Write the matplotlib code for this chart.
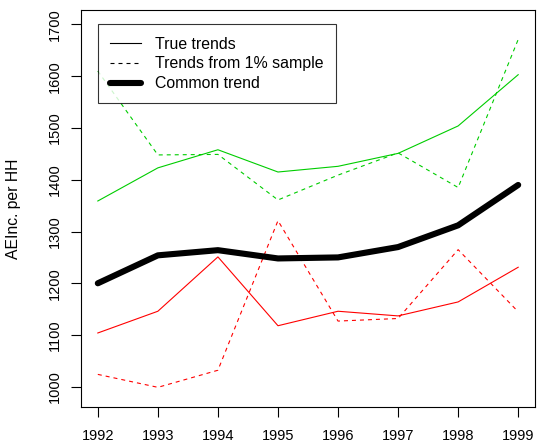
import matplotlib
matplotlib.use("Agg")
import matplotlib.pyplot as plt
from matplotlib.lines import Line2D

plt.rcParams['font.family'] = ['Liberation Sans', 'DejaVu Sans']

years = [1992, 1993, 1994, 1995, 1996, 1997, 1998, 1999]

green_true = [1359, 1423, 1458, 1415, 1426, 1451, 1504, 1603]
green_sample = [1610, 1448, 1449, 1361, 1409, 1452, 1385, 1671]
red_true = [1104, 1146, 1251, 1118, 1146, 1137, 1164, 1231]
red_sample = [1024, 999, 1032, 1321, 1127, 1132, 1265, 1145]
common = [1200, 1254, 1264, 1248, 1250, 1270, 1312, 1390]

yticks = [1000, 1100, 1200, 1300, 1400, 1500, 1600, 1700]
legend_labels = ["True trends", "Trends from 1% sample", "Common trend"]

GREEN = "#00CD00"
RED = "#FF0000"
thin = 0.8
dash = (0, (3.6, 3.6))

fig = plt.figure(figsize=(5.37, 4.44), dpi=100)
ax = fig.add_axes([81 / 537, 1 - 407 / 444, 454 / 537, 397 / 444])

ax.plot(years, green_true, color=GREEN, lw=thin)
ax.plot(years, green_sample, color=GREEN, lw=thin, linestyle=dash)
ax.plot(years, red_true, color=RED, lw=thin)
ax.plot(years, red_sample, color=RED, lw=thin, linestyle=dash)
ax.plot(years, common, color="black", lw=4.4, solid_capstyle="round",
        solid_joinstyle="round")

ax.set_xlim(1991.72, 1999.28)
ax.set_ylim(961, 1728)
ax.set_xticks(years)
ax.set_xticklabels([str(y) for y in years], fontsize=10.5)
ax.set_yticks(yticks)
ax.set_yticklabels([str(v) for v in yticks], fontsize=10.5, rotation=90,
                   va="center")
ax.tick_params(axis="both", direction="out", length=7, width=0.8,
               color="black")
ax.tick_params(axis="x", pad=9)
ax.tick_params(axis="y", pad=7)
for s in ax.spines.values():
    s.set_linewidth(0.8)
    s.set_color("black")

ax.set_ylabel("AEInc. per HH", fontsize=11.3, labelpad=19)

handles = [
    Line2D([], [], color="black", lw=thin),
    Line2D([], [], color="black", lw=thin, linestyle=dash),
    Line2D([], [], color="black", lw=4.4, solid_capstyle="round"),
]
leg = ax.legend(handles, legend_labels, loc="upper left",
                bbox_to_anchor=(16.5 / 454, 1 - 14.3 / 397),
                fontsize=11.4, frameon=True, fancybox=False,
                borderaxespad=0, handlelength=1.95, handletextpad=0.92,
                labelspacing=0.3, borderpad=0.78)
leg.get_frame().set_edgecolor("black")
leg.get_frame().set_linewidth(0.8)

fig.savefig("out.png", dpi=100)
